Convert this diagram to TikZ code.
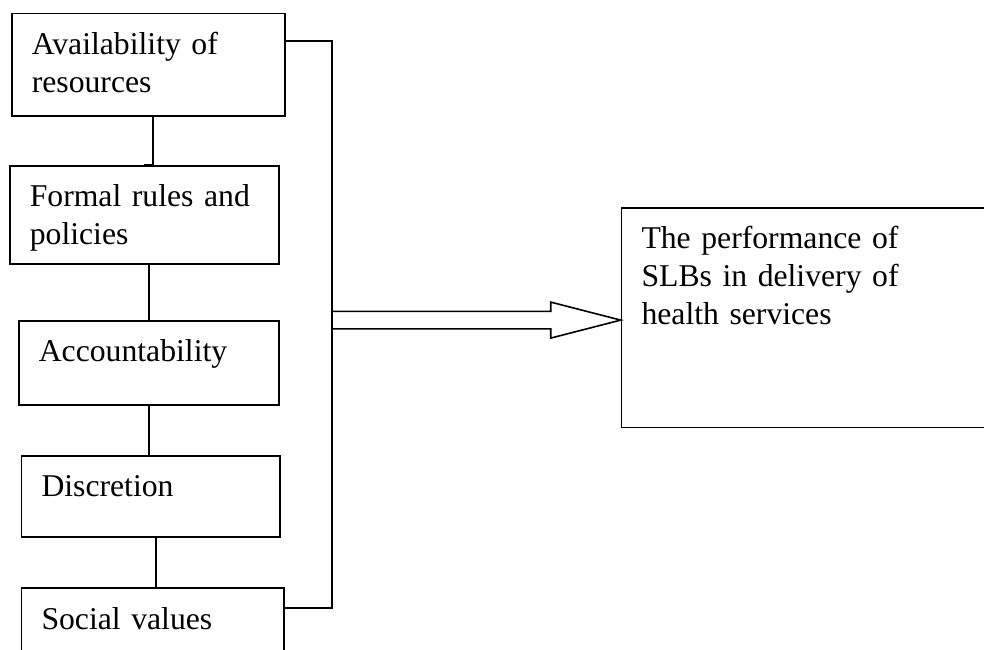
\documentclass[tikz,border=0pt]{standalone}
\usepackage{fontspec}
\setmainfont{Liberation Serif}
\usepackage{tikz}
\tikzstyle{factor}=[draw=black,line width=0.8pt,anchor=north west,align=left,inner xsep=10pt,inner ysep=10pt,text height=10.5pt,font=\fontsize{15.85}{19}\selectfont]
\tikzstyle{line}=[draw=black,line width=0.8pt]
\tikzstyle{block arrow}=[draw=black,line width=0.8pt,line join=miter]

\begin{document}
\begin{tikzpicture}[x=0.5pt,y=-0.5pt]
		\clip (0,0) rectangle (984,649);
		% factors on the left
		\node [style=factor,text width=116.5pt,text depth=20.7pt] (resources) at (11,12.7) {Availability of\\resources};
		\node [style=factor,text width=114.5pt,text depth=18.5pt] (rules) at (9,165) {Formal rules and\\policies};
		\node [style=factor,text width=110pt,text depth=11.5pt] (accountability) at (18,320) {Accountability};
		\node [style=factor,text width=109.2pt,text depth=10pt] (discretion) at (20.7,455) {Discretion};
		\node [style=factor,text width=111.2pt,text depth=15.9pt] (values) at (20.7,587.3) {Social values};
		% outcome
		\node [style=factor,text width=180pt,text depth=79.4pt] (performance) at (620.7,207) {The performance of\\SLBs in delivery of\\health services};
		% chain between the factors
		\path [style=line] ([xshift=2.2pt]resources.south) |- (rules.north);
		\path [style=line] (rules.south -| accountability.north) -- (accountability.north);
		\path [style=line] (accountability.south) -- (accountability.south |- discretion.north);
		\path [style=line] ([xshift=2.5pt]discretion.south) |- (values.north);
		% bracket
		\coordinate (bus_top) at (331.7,41);
		\coordinate (bus_bottom) at (331.7,608);
		\path [style=line] (resources.east |- bus_top) -- (bus_top) -- (bus_bottom) -- (values.east |- bus_bottom);
		% hollow arrow
		\coordinate (tip) at ([yshift=-1.2pt]performance.west);
		\coordinate (neck) at ([xshift=-35pt]tip);
		\coordinate (tail) at (bus_top |- tip);
		\path [style=block arrow] ([yshift=4.4pt]tail) -- ([yshift=4.4pt]neck) -- ([yshift=9pt]neck) -- (tip) -- ([yshift=-9pt]neck) -- ([yshift=-4.4pt]neck) -- ([yshift=-4.4pt]tail);
\end{tikzpicture}
\end{document}
